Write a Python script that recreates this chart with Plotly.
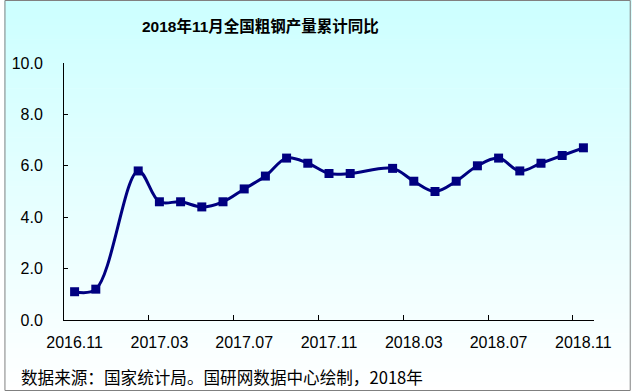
import plotly.graph_objects as go

# ---- data ----
all_months = ["2016.11", "2016.12", "2017.01", "2017.02", "2017.03", "2017.04", "2017.05",
              "2017.06", "2017.07", "2017.08", "2017.09", "2017.10", "2017.11", "2017.12",
              "2018.01", "2018.02", "2018.03", "2018.04", "2018.05", "2018.06", "2018.07",
              "2018.08", "2018.09", "2018.10", "2018.11"]
months = ["2016.11", "2016.12", "2017.02", "2017.03", "2017.04", "2017.05", "2017.06",
          "2017.07", "2017.08", "2017.09", "2017.10", "2017.11", "2017.12", "2018.02",
          "2018.03", "2018.04", "2018.05", "2018.06", "2018.07", "2018.08", "2018.09",
          "2018.10", "2018.11"]
values = [1.1, 1.2, 5.8, 4.6, 4.6, 4.4, 4.6, 5.1, 5.6, 6.3, 6.1, 5.7, 5.7, 5.9,
          5.4, 5.0, 5.4, 6.0, 6.3, 5.8, 6.1, 6.4, 6.7]
tick_labels = ["2016.11", "2017.03", "2017.07", "2017.11", "2018.03", "2018.07", "2018.11"]

title = "2018年11月全国粗钢产量累计同比"
source = "数据来源：国家统计局。国研网数据中心绘制，2018年"

# ---- layout geometry ----
W, H = 632, 392
L, R, T, B = 60, 38, 63, 72
PW, PH = W - L - R, H - T - B


def px(x):
    return (x - L) / PW


def py(y):
    return (H - B - y) / PH


x_idx = [all_months.index(m) for m in months]
tick_idx = [all_months.index(m) for m in tick_labels]
minor_idx = [i - 0.5 for i in tick_idx[1:]]

fig = go.Figure()
fig.add_trace(go.Scatter(
    x=x_idx, y=values, mode="lines+markers",
    line=dict(color="#000080", width=3, shape="spline"),
    marker=dict(symbol="square", size=9, color="#000080"),
    hoverinfo="skip", showlegend=False,
))

# background gradient (cyan -> white) and border
shapes = []
n = 80
top = (204, 255, 255)
bot = (255, 255, 255)
for i in range(n):
    y0 = H * i / n
    y1 = H * (i + 1) / n + 0.6
    t = (i + 0.5) / n
    c = tuple(round(top[k] + (bot[k] - top[k]) * t) for k in range(3))
    shapes.append(dict(type="rect", xref="paper", yref="paper", layer="below",
                       x0=px(0), x1=px(W), y0=py(y1), y1=py(y0),
                       line=dict(width=0), fillcolor="rgb(%d,%d,%d)" % c))
shapes.append(dict(type="rect", xref="paper", yref="paper", layer="above",
                   x0=px(0.5), x1=px(W - 1.5), y0=py(H - 1.5), y1=py(0.5),
                   line=dict(width=1, color="#808080"), fillcolor="rgba(0,0,0,0)"))

fig.update_layout(
    width=W, height=H,
    margin=dict(l=L, r=R, t=T, b=B),
    paper_bgcolor="white", plot_bgcolor="rgba(0,0,0,0)",
    shapes=shapes,
    font=dict(family="Liberation Sans, Arial, Noto Sans CJK SC", size=16, color="#000000"),
    annotations=[
        dict(text="<b>" + title + "</b>", xref="paper", yref="paper",
             x=px(258), y=py(26), xanchor="center", yanchor="middle", showarrow=False,
             font=dict(family="Liberation Sans, Arial, Noto Sans CJK SC", size=15.5, color="#000000")),
        dict(text=source, xref="paper", yref="paper",
             x=px(15), y=py(377), xanchor="left", yanchor="middle", showarrow=False,
             font=dict(family="Noto Sans CJK SC", size=16.6, color="#000000")),
    ],
    xaxis=dict(
        range=[-0.5, len(all_months) - 0.5],
        tickvals=tick_idx, ticktext=tick_labels,
        ticks="", showgrid=False, zeroline=False,
        showline=True, linecolor="#000000", linewidth=1,
        ticklabelstandoff=8,
        minor=dict(tickvals=minor_idx, ticks="inside", ticklen=5,
                   tickcolor="#000000", tickwidth=1, showgrid=False),
    ),
    yaxis=dict(
        range=[0, 10], dtick=2, tick0=0, tickformat=".1f",
        ticks="inside", ticklen=4, tickcolor="#000000",
        showgrid=False, zeroline=False,
        showline=True, linecolor="#000000", linewidth=1,
        ticklabelstandoff=17,
    ),
)

fig.write_html("out.html", config={"displayModeBar": False},
               post_script="document.body.style.margin='0';document.body.style.padding='0';")
